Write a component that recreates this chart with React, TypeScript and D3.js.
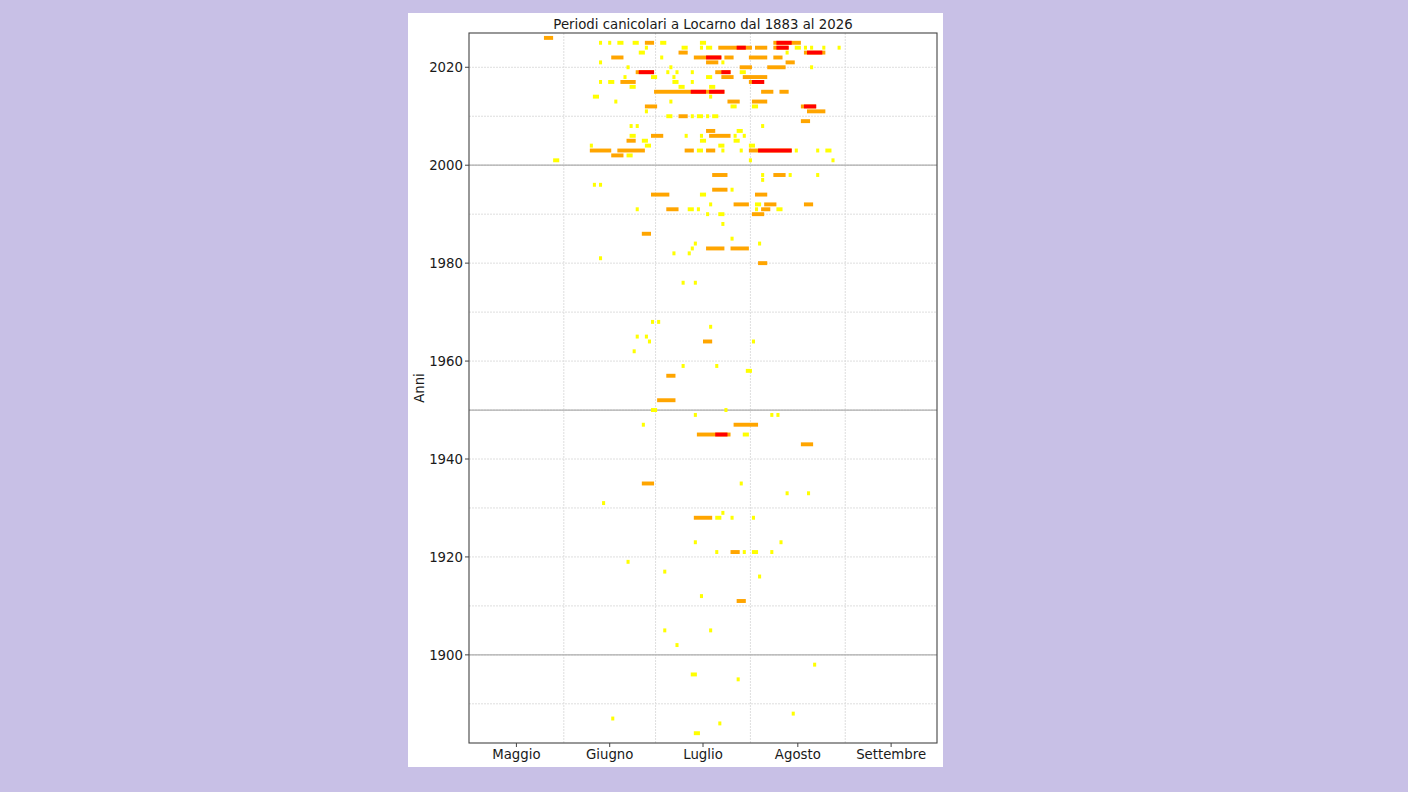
import * as d3 from "d3";
import { useEffect, useRef } from "react";

// [anno, inizio "MM-GG", fine "MM-GG"]
type Period = [number, string, string];

const months = ["Maggio", "Giugno", "Luglio", "Agosto", "Settembre"];
// giorni dal 1 maggio all'inizio di ogni mese (fino al 1 ottobre)
const monthStart = [0, 31, 61, 92, 123, 153];
const yearTicks = [1900, 1920, 1940, 1960, 1980, 2000, 2020];
const decadeLines = [1890, 1900, 1910, 1920, 1930, 1940, 1950, 1960, 1970, 1980, 1990, 2000, 2010, 2020];
const centuryLines = [1900, 1950, 2000];

// giornate calde isolate
const hotDays: Period[] = [
  [2025, "06-13", "06-13"], [2025, "06-16", "06-16"], [2025, "06-19", "06-20"], [2025, "06-24", "06-25"],
  [2025, "07-03", "07-04"], [2025, "07-16", "07-17"],
  [2024, "06-28", "06-28"], [2024, "07-10", "07-11"], [2024, "07-16", "07-16"], [2024, "07-18", "07-19"],
  [2024, "08-16", "08-17"], [2024, "08-19", "08-19"], [2024, "08-21", "08-21"], [2024, "08-25", "08-25"],
  [2024, "08-30", "08-30"],
  [2023, "06-26", "06-27"], [2023, "08-13", "08-13"],
  [2022, "07-03", "07-03"],
  [2021, "06-13", "06-13"], [2021, "07-23", "07-23"],
  [2020, "06-22", "06-22"], [2020, "07-06", "07-06"], [2020, "08-21", "08-21"],
  [2019, "07-05", "07-05"], [2019, "07-08", "07-08"], [2019, "07-13", "07-13"], [2019, "07-29", "07-30"],
  [2018, "06-21", "06-21"], [2018, "06-30", "07-01"], [2018, "07-07", "07-07"], [2018, "07-18", "07-19"],
  [2017, "06-13", "06-13"], [2017, "06-16", "06-17"], [2017, "07-07", "07-08"], [2017, "07-13", "07-13"],
  [2016, "06-23", "06-24"], [2016, "07-09", "07-10"], [2016, "07-19", "07-20"],
  [2014, "06-11", "06-12"], [2014, "07-19", "07-19"],
  [2013, "06-18", "06-18"], [2013, "07-06", "07-06"],
  [2012, "07-26", "07-27"], [2012, "08-02", "08-03"],
  [2011, "06-28", "06-28"],
  [2010, "07-05", "07-06"], [2010, "07-13", "07-13"], [2010, "07-15", "07-16"], [2010, "07-18", "07-18"],
  [2010, "07-20", "07-21"],
  [2008, "06-23", "06-23"], [2008, "06-25", "06-25"], [2008, "08-05", "08-05"],
  [2007, "07-28", "07-29"],
  [2006, "06-23", "06-24"], [2006, "07-11", "07-11"], [2006, "07-16", "07-16"], [2006, "07-27", "07-27"],
  [2006, "07-30", "07-30"],
  [2005, "06-27", "06-28"], [2005, "07-16", "07-17"], [2005, "07-27", "07-28"],
  [2004, "06-10", "06-10"], [2004, "06-28", "06-29"], [2004, "07-22", "07-23"], [2004, "08-01", "08-02"],
  [2003, "07-15", "07-16"], [2003, "07-23", "07-23"], [2003, "07-29", "07-29"], [2003, "08-16", "08-16"],
  [2003, "08-23", "08-23"], [2003, "08-26", "08-27"],
  [2002, "06-22", "06-23"],
  [2001, "05-29", "05-30"], [2001, "08-01", "08-01"], [2001, "08-28", "08-28"],
  [1998, "08-05", "08-05"], [1998, "08-14", "08-14"], [1998, "08-23", "08-23"],
  [1997, "08-05", "08-05"],
  [1996, "06-11", "06-11"], [1996, "06-13", "06-13"],
  [1995, "07-26", "07-26"],
  [1994, "07-16", "07-17"],
  [1992, "07-19", "07-19"], [1992, "08-03", "08-04"],
  [1991, "06-25", "06-25"], [1991, "07-12", "07-13"], [1991, "07-15", "07-15"], [1991, "08-03", "08-03"],
  [1991, "08-10", "08-11"],
  [1990, "07-18", "07-18"], [1990, "07-22", "07-23"],
  [1988, "07-23", "07-23"],
  [1985, "07-26", "07-26"],
  [1984, "07-14", "07-14"], [1984, "08-04", "08-04"],
  [1983, "07-13", "07-13"],
  [1982, "07-07", "07-07"], [1982, "07-12", "07-12"],
  [1981, "06-13", "06-13"],
  [1976, "07-10", "07-10"], [1976, "07-14", "07-14"],
  [1968, "06-30", "06-30"], [1968, "07-02", "07-02"],
  [1967, "07-19", "07-19"],
  [1965, "06-25", "06-25"], [1965, "06-28", "06-28"],
  [1964, "06-29", "06-29"], [1964, "08-02", "08-02"],
  [1962, "06-24", "06-24"],
  [1959, "07-10", "07-10"], [1959, "07-21", "07-21"],
  [1958, "07-31", "08-01"],
  [1950, "06-30", "07-01"], [1950, "07-24", "07-24"],
  [1949, "07-14", "07-14"], [1949, "08-08", "08-08"], [1949, "08-10", "08-10"],
  [1947, "06-27", "06-27"],
  [1945, "07-30", "07-31"],
  [1935, "07-29", "07-29"],
  [1933, "08-13", "08-13"], [1933, "08-20", "08-20"],
  [1931, "06-14", "06-14"],
  [1929, "07-23", "07-23"],
  [1928, "07-21", "07-22"], [1928, "07-26", "07-26"], [1928, "08-02", "08-02"],
  [1923, "07-14", "07-14"], [1923, "08-11", "08-11"],
  [1921, "07-21", "07-21"], [1921, "07-30", "07-30"], [1921, "08-02", "08-03"], [1921, "08-08", "08-08"],
  [1919, "06-22", "06-22"],
  [1917, "07-04", "07-04"],
  [1916, "08-04", "08-04"],
  [1912, "07-16", "07-16"],
  [1905, "07-04", "07-04"], [1905, "07-19", "07-19"],
  [1902, "07-08", "07-08"],
  [1898, "08-22", "08-22"],
  [1896, "07-13", "07-14"],
  [1895, "07-28", "07-28"],
  [1888, "08-15", "08-15"],
  [1887, "06-17", "06-17"],
  [1886, "07-22", "07-22"],
  [1884, "07-14", "07-15"],
];

// ondate di calore
const heatWaves: Period[] = [
  [2026, "05-26", "05-28"],
  [2025, "06-28", "06-30"], [2025, "08-09", "08-17"],
  [2024, "07-22", "08-01"], [2024, "08-03", "08-06"], [2024, "08-09", "08-13"],
  [2023, "07-09", "07-11"], [2023, "08-19", "08-25"],
  [2022, "06-17", "06-20"], [2022, "07-14", "07-22"], [2022, "07-24", "07-26"], [2022, "08-01", "08-06"],
  [2022, "08-09", "08-11"],
  [2021, "07-18", "07-21"], [2021, "08-13", "08-15"],
  [2020, "07-29", "08-01"], [2020, "08-07", "08-12"],
  [2019, "06-25", "06-30"], [2019, "07-21", "07-25"],
  [2018, "07-23", "07-26"], [2018, "07-30", "08-06"],
  [2017, "06-20", "06-24"], [2017, "08-01", "08-05"],
  [2015, "07-01", "07-23"], [2015, "08-05", "08-08"], [2015, "08-11", "08-13"],
  [2013, "07-25", "07-28"], [2013, "08-02", "08-06"],
  [2012, "06-28", "07-01"], [2012, "08-18", "08-22"],
  [2011, "08-20", "08-25"],
  [2010, "07-09", "07-11"],
  [2009, "08-18", "08-20"],
  [2007, "07-18", "07-20"],
  [2006, "06-30", "07-03"], [2006, "07-19", "07-25"],
  [2005, "06-22", "06-24"],
  [2003, "06-10", "06-16"], [2003, "06-19", "06-27"], [2003, "07-11", "07-13"], [2003, "07-18", "07-20"],
  [2003, "08-01", "08-14"],
  [2002, "06-17", "06-20"],
  [1998, "07-20", "07-24"], [1998, "08-09", "08-12"],
  [1995, "07-20", "07-24"],
  [1994, "06-30", "07-05"], [1994, "08-03", "08-06"],
  [1992, "07-27", "07-31"], [1992, "08-06", "08-09"], [1992, "08-19", "08-21"],
  [1991, "07-05", "07-08"], [1991, "08-05", "08-07"],
  [1990, "08-02", "08-05"],
  [1986, "06-27", "06-29"],
  [1983, "07-18", "07-23"], [1983, "07-26", "07-31"],
  [1980, "08-04", "08-06"],
  [1964, "07-17", "07-19"],
  [1957, "07-05", "07-07"],
  [1952, "07-02", "07-07"],
  [1947, "07-27", "08-03"],
  [1945, "07-15", "07-25"],
  [1943, "08-18", "08-21"],
  [1935, "06-27", "06-30"],
  [1928, "07-14", "07-19"],
  [1921, "07-26", "07-28"],
  [1911, "07-28", "07-30"],
];

// giornate estreme dentro le ondate
const extremeDays: Period[] = [
  [2025, "08-10", "08-14"],
  [2024, "07-28", "07-30"], [2024, "08-10", "08-13"],
  [2023, "08-20", "08-24"],
  [2022, "07-18", "07-22"],
  [2019, "06-26", "06-30"], [2019, "07-23", "07-25"],
  [2017, "08-02", "08-05"],
  [2015, "07-13", "07-17"], [2015, "07-19", "07-23"],
  [2012, "08-19", "08-22"],
  [2003, "08-04", "08-14"],
  [1945, "07-21", "07-24"],
];

const dayIndex = (s: string) => monthStart[+s.slice(0, 2) - 5] + +s.slice(3) - 1;

export default function App() {
  const ref = useRef<SVGSVGElement>(null);

  useEffect(() => {
    const svg = d3.select(ref.current);
    svg.selectAll("*").remove();

    const left = 469, right = 937, top = 33, bottom = 743;
    const font = "DejaVu Sans, sans-serif";

    // pannello bianco
    svg.append("rect").attr("x", 408).attr("y", 13).attr("width", 535).attr("height", 754).attr("fill", "#fff");

    const x = d3.scaleLinear().domain([0, 153]).range([left, right]);
    const y = d3.scaleLinear().domain([1882, 2027]).range([bottom, top]);

    const g = svg.append("g");

    // griglia
    g.selectAll("line.vgrid")
      .data(monthStart.slice(1, 5))
      .join("line")
      .attr("x1", (d) => x(d)).attr("x2", (d) => x(d))
      .attr("y1", top).attr("y2", bottom)
      .attr("stroke", "#dedede").attr("stroke-width", 1).attr("stroke-dasharray", "2,1");
    g.selectAll("line.hgrid")
      .data(decadeLines)
      .join("line")
      .attr("x1", left).attr("x2", right)
      .attr("y1", (d) => y(d)).attr("y2", (d) => y(d))
      .attr("stroke", "#dedede").attr("stroke-width", 1).attr("stroke-dasharray", "2,1");
    g.selectAll("line.century")
      .data(centuryLines)
      .join("line")
      .attr("x1", left).attr("x2", right)
      .attr("y1", (d) => y(d)).attr("y2", (d) => y(d))
      .attr("stroke", "#adadad").attr("stroke-width", 1.3);

    const barH = (y(0) - y(1)) * 0.8;
    const drawBars = (data: Period[], color: string) =>
      g.append("g")
        .selectAll("rect")
        .data(data)
        .join("rect")
        .attr("x", (d) => x(dayIndex(d[1]) - 0.5))
        .attr("width", (d) => x(dayIndex(d[2]) + 0.5) - x(dayIndex(d[1]) - 0.5))
        .attr("y", (d) => y(d[0]) - barH / 2)
        .attr("height", barH)
        .attr("fill", color);

    drawBars(hotDays, "#ffff00");
    drawBars(heatWaves, "#ffa500");
    drawBars(extremeDays, "#ff0000");

    // cornice
    svg.append("rect")
      .attr("x", left).attr("y", top).attr("width", right - left).attr("height", bottom - top)
      .attr("fill", "none").attr("stroke", "#444").attr("stroke-width", 1.1);

    // asse x: nomi dei mesi a metà mese
    const mid = months.map((m, i) => ({ m, v: (monthStart[i] + monthStart[i + 1]) / 2 }));
    const xa = svg.append("g");
    xa.selectAll("line").data(mid).join("line")
      .attr("x1", (d) => x(d.v)).attr("x2", (d) => x(d.v))
      .attr("y1", bottom).attr("y2", bottom + 4)
      .attr("stroke", "#444").attr("stroke-width", 1);
    xa.selectAll("text").data(mid).join("text")
      .attr("x", (d) => x(d.v)).attr("y", 759)
      .attr("text-anchor", "middle")
      .attr("font-family", font).attr("font-size", 13.3).attr("fill", "#1a1a1a")
      .text((d) => d.m);

    // asse y
    const ya = svg.append("g");
    ya.selectAll("line").data(yearTicks).join("line")
      .attr("x1", left - 4).attr("x2", left)
      .attr("y1", (d) => y(d)).attr("y2", (d) => y(d))
      .attr("stroke", "#444").attr("stroke-width", 1);
    ya.selectAll("text").data(yearTicks).join("text")
      .attr("x", left - 6).attr("y", (d) => y(d))
      .attr("dy", "0.36em")
      .attr("text-anchor", "end")
      .attr("font-family", font).attr("font-size", 13.3).attr("fill", "#1a1a1a")
      .text((d) => d);

    svg.append("text")
      .attr("transform", `translate(424,${(top + bottom) / 2}) rotate(-90)`)
      .attr("text-anchor", "middle")
      .attr("font-family", font).attr("font-size", 13.3).attr("fill", "#1a1a1a")
      .text("Anni");

    svg.append("text")
      .attr("x", (left + right) / 2).attr("y", 29)
      .attr("text-anchor", "middle")
      .attr("font-family", font).attr("font-size", 13.3).attr("fill", "#1a1a1a")
      .text("Periodi canicolari a Locarno dal 1883 al 2026");
  }, []);

  return (
    <div style={{ position: "fixed", inset: 0, background: "#c8c0e6" }}>
      <svg ref={ref} width={1408} height={792} style={{ display: "block" }} />
    </div>
  );
}
